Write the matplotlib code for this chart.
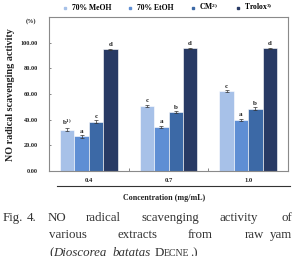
import matplotlib
matplotlib.use("Agg")
import matplotlib.pyplot as plt
import numpy as np
from matplotlib.lines import Line2D

plt.rcParams['font.family'] = ['Liberation Serif', 'DejaVu Serif']
plt.rcParams['mathtext.fontset'] = 'custom'
plt.rcParams['mathtext.rm'] = 'Liberation Serif:bold'
plt.rcParams['mathtext.it'] = 'Liberation Serif:italic:bold'
plt.rcParams['mathtext.bf'] = 'Liberation Serif:bold'

# ---- data ----
concentrations = ["0.4", "0.7", "1.0"]
series_names = ["70% MeOH", "70% EtOH", "CM$^{2)}$", "Trolox$^{3)}$"]
meoh = [32.3, 50.7, 62.0]
etoh = [27.0, 34.5, 39.8]
cm = [38.5, 45.8, 48.6]
trolox = [94.9, 95.6, 95.6]
meoh_err = [0.9, 0.9, 0.8]
etoh_err = [1.0, 0.8, 0.8]
cm_err = [1.0, 0.9, 0.9]
trolox_err = [0.5, 0.5, 0.5]
meoh_sig = ["b$^{1)}$", "c", "c"]
etoh_sig = ["a", "a", "a"]
cm_sig = ["c", "b", "b"]
trolox_sig = ["d", "d", "d"]
yticks = [0, 20, 40, 60, 80, 100]
ytick_labels = ["0.00", "20.00", "40.00", "60.00", "80.00", "100.00"]

colors = ["#A7C1E8", "#5E8ED4", "#3C69A6", "#283A64"]

W, H = 295, 256
fig = plt.figure(figsize=(W / 100, H / 100), dpi=100)
ax = fig.add_axes([49 / W, 1 - 171 / H, (288 - 49) / W, (171 - 17) / H])

x = np.arange(len(concentrations))
bw = 0.18
all_vals = [meoh, etoh, cm, trolox]
all_err = [meoh_err, etoh_err, cm_err, trolox_err]
all_sig = [meoh_sig, etoh_sig, cm_sig, trolox_sig]
for i, (vals, errs, sigs) in enumerate(zip(all_vals, all_err, all_sig)):
    pos = x + (i - 1.5) * bw
    ax.bar(pos, vals, width=bw, color=colors[i], edgecolor="white", linewidth=0.4, zorder=2)
    ax.errorbar(pos, vals, yerr=errs, fmt="none", ecolor="#333333", elinewidth=0.5,
                capsize=1.2, capthick=0.5, zorder=3)
    for p, v, e, s in zip(pos, vals, errs, sigs):
        ax.text(p, v + e + 1.2, s, ha="center", va="bottom", fontsize=5,
                fontweight="bold", color="#222222")

ax.set_xlim(-0.5, 2.5)
ax.set_ylim(0, 120)
ax.set_yticks(yticks)
ax.set_yticklabels(ytick_labels, fontsize=4.5, fontweight="bold", color="#222222")
ax.set_xticks(x)
ax.set_xticklabels(concentrations, fontsize=4.8, fontweight="bold", color="#222222")
ax.set_xticks([0.5, 1.5], minor=True)
ax.tick_params(axis="x", which="major", length=0, pad=5)
ax.tick_params(axis="x", which="minor", length=2, direction="in", width=0.5, color="#555555")
ax.tick_params(axis="y", length=1.5, direction="in", width=0.5, color="#555555", pad=8)
for sp in ax.spines.values():
    sp.set_color("#8a8a8a")
    sp.set_linewidth(0.8)

ax.text(-0.075, 116.5, "(%)", transform=ax.get_yaxis_transform(), ha="center", va="center",
        fontsize=4.5, fontweight="bold", color="#222222")

fig.text(11 / W, 1 - 95 / H, "NO radical scavenging activity", rotation=90, ha="center",
         va="center", fontsize=7.3, fontweight="bold", color="#222222")

# underline and x label
fig.add_artist(Line2D([57 / W, 290 / W], [1 - 185.5 / H, 1 - 185.5 / H], color="#333333",
                      linewidth=0.8))
fig.text(164 / W, 1 - 198 / H, "Concentration (mg/mL)", ha="center", va="center",
         fontsize=5.8, fontweight="bold", color="#222222")

# legend
handles = [Line2D([], [], marker="s", linestyle="none", markersize=1.6, color=c) for c in colors]
fig.legend(handles, series_names, loc="center", bbox_to_anchor=(168 / W, 1 - 7 / H), ncol=4,
           frameon=False, prop={"size": 5.5, "weight": "bold"}, handlelength=0.5,
           handletextpad=0.6, columnspacing=2.3, borderpad=0)

# caption
cap_kw = dict(fontsize=9.3, color="#333333", va="baseline")
line1 = [("Fig.", 3), ("4.", 27), ("NO", 48), ("radical", 86), ("scavenging", 141),
         ("activity", 220)]
for w, px in line1:
    fig.text(px / W, 1 - 221 / H, w, ha="left", **cap_kw)
fig.text(292 / W, 1 - 221 / H, "of", ha="right", **cap_kw)
line2 = [("various", 49), ("extracts", 118), ("from", 188), ("raw", 245)]
for w, px in line2:
    fig.text(px / W, 1 - 238 / H, w, ha="left", **cap_kw)
fig.text(292 / W, 1 - 238 / H, "yam", ha="right", **cap_kw)

# third line
pieces = [("(", 49, {}), ("Dioscorea", 53, {"style": "italic"}),
          ("batatas", 113, {"style": "italic"}), ("D", 155, {}),
          ("ECNE", 164, {"fontsize": 7.0}), (".)", 190, {})]
for txt, px, kw in pieces:
    k = dict(cap_kw)
    k.update(kw)
    fig.text(px / W, 1 - 256 / H, txt, ha="left", **k)

fig.savefig("out.png", dpi=100)
